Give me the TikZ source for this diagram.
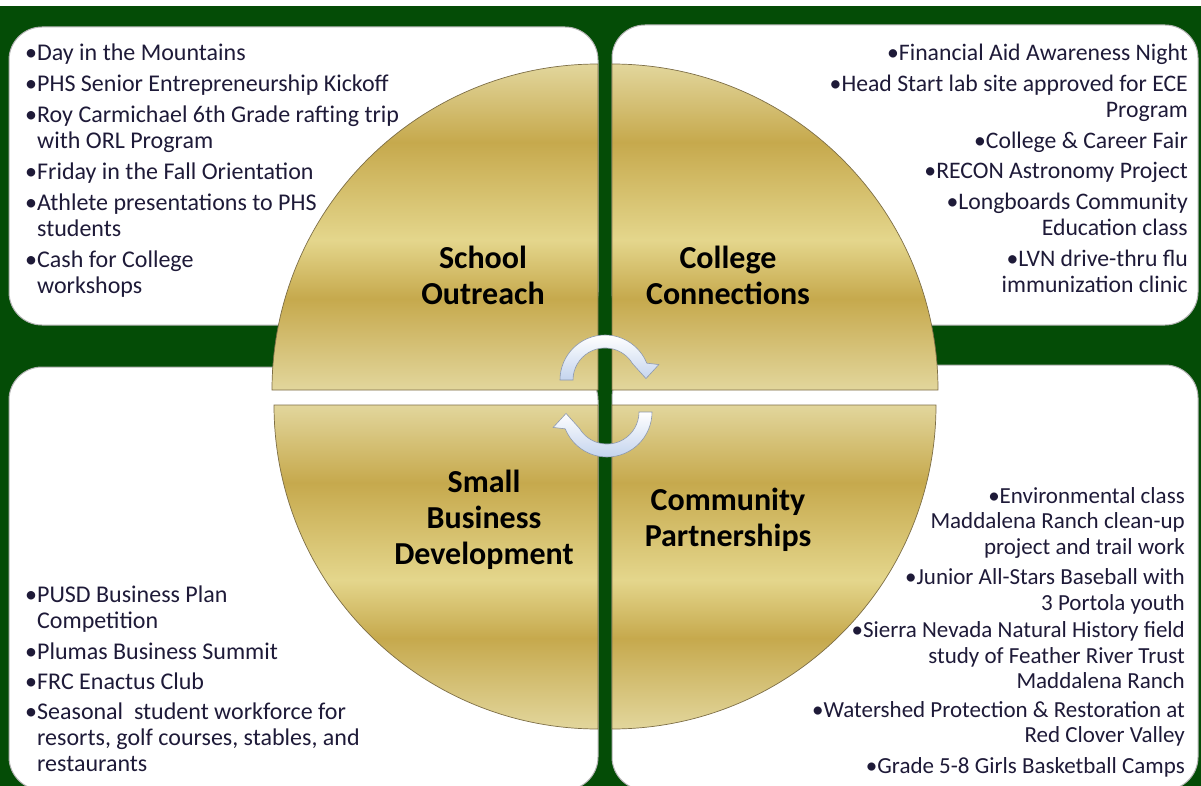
\documentclass[tikz,border=0pt]{standalone}
\usepackage{fontspec}
\setmainfont{Carlito}

\definecolor{bggreen}{RGB}{4,76,6}
\definecolor{golddark}{RGB}{198,169,77}
\definecolor{goldlight}{RGB}{228,214,140}
\definecolor{goldpale}{RGB}{226,214,156}
\definecolor{goldline}{RGB}{125,110,70}
\definecolor{inkblue}{RGB}{30,26,56}
\definecolor{arrowblue}{RGB}{196,212,238}
\definecolor{arrowline}{RGB}{140,152,175}

\pgfdeclareverticalshading{goldband}{100bp}{color(0bp)=(goldpale); color(25bp)=(goldpale); color(39bp)=(golddark); color(48bp)=(goldlight); color(63bp)=(golddark); color(75bp)=(goldpale); color(100bp)=(goldpale)}

\tikzset{
  quad/.style={shading=goldband, draw=goldline, line width=0.7pt},
  box/.style={fill=white, draw=black!30, line width=1pt, rounded corners=33pt},
  title/.style={font=\fontsize{32}{36}\selectfont\bfseries, align=center, text=black},
  leftlist/.style={font=\fontsize{24}{26}\selectfont, align=left, text=inkblue, inner sep=0pt, anchor=north west},
  rightlist/.style={font=\fontsize{23.7}{26.5}\selectfont, align=right, text=inkblue, inner sep=0pt, anchor=north east},
  turn/.style={top color=white, bottom color=arrowblue, draw=arrowline, line width=0.6pt}
}

\begin{document}
\begin{tikzpicture}[x=1pt,y=1pt]

\useasboundingbox (0,0) rectangle (1201,-786);
\clip (0,0) rectangle (1201,-786);
\fill[white] (0,0) rectangle (1201,-786);
\fill[bggreen] (0,-6) rectangle (1201,-786);

\draw[box] (9,-27) rectangle (598,-325);
\draw[box] (612,-25) rectangle (1198,-325);
\draw[box] (9,-367) rectangle (598,-790);
\draw[box] (612,-365) rectangle (1198,-790);

\shadedraw[quad] (598,-390) -- (272,-390) arc[start angle=180, end angle=90, radius=326] -- cycle;
\shadedraw[quad] (612,-390) -- (612,-64) arc[start angle=90, end angle=0, radius=326] -- cycle;
\shadedraw[quad] (598,-405) -- (274,-405) arc[start angle=180, end angle=270, radius=324] -- cycle;
\shadedraw[quad] (612,-405) -- (612,-729) arc[start angle=270, end angle=360, radius=324] -- cycle;

\begin{scope}[shift={(605,-380)}]
\shadedraw[turn] (180:45) arc[start angle=180, end angle=22, radius=45] -- (16:56) -- (2:41) -- (31:32) arc[start angle=31, end angle=180, radius=32] -- cycle;
\end{scope}
\begin{scope}[shift={(607,-412)}, rotate=180]
\shadedraw[turn] (180:45) arc[start angle=180, end angle=22, radius=45] -- (16:56) -- (2:41) -- (31:32) arc[start angle=31, end angle=180, radius=32] -- cycle;
\end{scope}

\draw (483,-275) node(SO)[title]{School\\Outreach};
\draw (728,-275) node(CC)[title]{College\\Connections};
\draw (484,-520) node(SB)[title]{Small\\Business\\Development};
\draw (728,-520) node(CP)[title]{Community\\Partnerships};

\draw (25,-44) node(SOL)[leftlist]{%
•Day in the Mountains\\[5pt]%
•PHS Senior Entrepreneurship Kickoff\\[5pt]%
•Roy Carmichael 6th Grade rafting trip\\%
\hphantom{•}with ORL Program\\[5pt]%
•Friday in the Fall Orientation\\[5pt]%
•Athlete presentations to PHS\\%
\hphantom{•}students\\[5pt]%
•Cash for College\\%
\hphantom{•}workshops};

\draw (1188,-44) node(CCL)[rightlist]{%
•Financial Aid Awareness Night\\[4pt]%
•Head Start lab site approved for ECE\\%
Program\\[4pt]%
•College \& Career Fair\\[4pt]%
•RECON Astronomy Project\\[4pt]%
•Longboards Community\\%
Education class\\[4pt]%
•LVN drive-thru flu\\%
immunization clinic};

\draw (25,-586) node(SBL)[leftlist]{%
•PUSD Business Plan\\%
\hphantom{•}Competition\\[5pt]%
•Plumas Business Summit\\[4pt]%
•FRC Enactus Club\\[4pt]%
•Seasonal~ student workforce for\\%
\hphantom{•}resorts, golf courses, stables, and\\%
\hphantom{•}restaurants};

\draw (1185,-487) node(CPL)[rightlist, font=\fontsize{23}{25.5}\selectfont]{%
•Environmental class\\%
Maddalena Ranch clean-up\\%
project and trail work\\[5pt]%
•Junior All-Stars Baseball with\\%
3 Portola youth\\[2pt]%
•Sierra Nevada Natural History field\\%
study of Feather River Trust\\%
Maddalena Ranch\\[3pt]%
•Watershed Protection \& Restoration at\\%
Red Clover Valley\\[5pt]%
•Grade 5-8 Girls Basketball Camps};

\end{tikzpicture}
\end{document}
